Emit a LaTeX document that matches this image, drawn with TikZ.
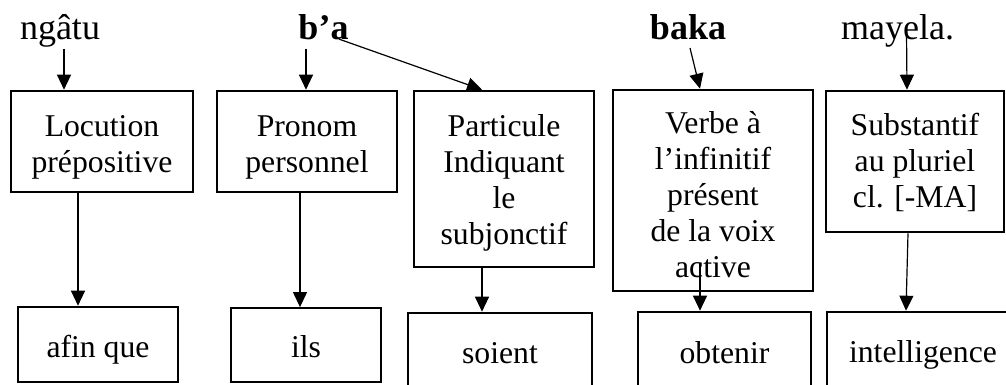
\documentclass[tikz,border=0pt]{standalone}
\usepackage{fontspec}
\setmainfont{Liberation Serif}
\usetikzlibrary{arrows.meta}
\tikzset{
  boxnode/.style={draw, line width=2.6pt, inner sep=0pt},
  boxtext/.style={align=center, inner sep=0pt, font=\fontsize{31.7pt}{36pt}\selectfont},
  word/.style={anchor=base, inner sep=0pt, font=\fontsize{36pt}{40pt}\selectfont},
  arr/.style={line width=1.2pt, -{Triangle[length=15pt,width=14pt]}}
}
\begin{document}
\begin{tikzpicture}[x=1pt,y=-1pt]
\useasboundingbox (0,0) rectangle (1006,385);
\clip (0,0) rectangle (1006,385);
% words
\node[word] (ngatu) at (60,40) {ngâtu};
\node[word] (ba) at (323.5,40) {\bfseries b’a};
\node[word] (baka) at (688,40) {\bfseries baka};
\node[word] (may) at (897.5,40) {mayela.};
% top boxes
\node[boxnode, minimum width=182pt, minimum height=101pt,
  label={[boxtext, yshift=-5.5pt]center:{Locution\\prépositive}}] (loc) at (102,141.5) {};
\node[boxnode, minimum width=180pt, minimum height=101pt,
  label={[boxtext, yshift=-5.5pt]center:{Pronom\\personnel}}] (pron) at (307,141.5) {};
\node[boxnode, minimum width=180pt, minimum height=176pt,
  label={[boxtext, yshift=-3.5pt]center:{Particule\\Indiquant\\le\\subjonctif}}] (part) at (504,179) {};
\node[boxnode, minimum width=200pt, minimum height=201pt,
  label={[boxtext, yshift=-4pt]center:{Verbe à\\l’infinitif\\présent\\de la voix\\active}}] (verbe) at (713,190.5) {};
\node[boxnode, minimum width=178pt, minimum height=141pt,
  label={[boxtext, yshift=-1pt]center:{Substantif\\au pluriel\\cl. [-MA]}}] (subst) at (915,161.5) {};
% bottom boxes
\node[boxnode, minimum width=160pt, minimum height=75pt,
  label={[boxtext, yshift=-5.1pt]center:{afin que}}] (afin) at (98,344.5) {};
\node[boxnode, line width=1.8pt, minimum width=150pt, minimum height=74pt,
  label={[boxtext, yshift=-1.3pt]center:{ils}}] (ils) at (306,345) {};
\node[boxnode, minimum width=184pt, minimum height=84pt,
  label={[boxtext, yshift=2pt]center:{soient}}] (soient) at (500,355) {};
\node[boxnode, minimum width=173pt, minimum height=85pt,
  label={[boxtext, yshift=2pt]center:{obtenir}}] (obt) at (724.5,354.5) {};
\node[boxnode, minimum width=192pt, minimum height=85pt,
  label={[boxtext]center:{intelligence}}] (intel) at (923,354.5) {};
% connectors
\draw[arr] ([xshift=4pt,yshift=-1pt]ngatu.south) -- ([xshift=4pt]ngatu.south |- loc.north);
\draw[arr] ([xshift=-17.5pt,yshift=-8pt]ba.south) -- ([xshift=-17.5pt]ba.south |- pron.north);
\draw[arr] ([xshift=-10pt,yshift=1pt]ba.base east) -- ([xshift=-22pt]part.north);
\draw[arr] ([xshift=2pt,yshift=-8pt]baka.base) -- ([xshift=-13pt]verbe.north);
\draw[arr] ([xshift=9pt,yshift=8pt]may.base) -- ([xshift=-8pt]subst.north);
\draw[arr] ([xshift=-24pt]loc.south) -- ([xshift=-24pt]loc.south |- afin.north);
\draw[arr] ([xshift=-7pt]pron.south) -- ([xshift=-7pt]pron.south |- ils.north);
\draw[arr] ([xshift=-22pt]part.south) -- ([xshift=-22pt]part.south |- soient.north);
\draw[arr] ([xshift=-13pt,yshift=29pt]verbe.south) -- ([xshift=-13pt]verbe.south |- obt.north);
\draw[arr] ([xshift=-7pt]subst.south) -- ([xshift=-17pt]intel.north);
\end{tikzpicture}
\end{document}
